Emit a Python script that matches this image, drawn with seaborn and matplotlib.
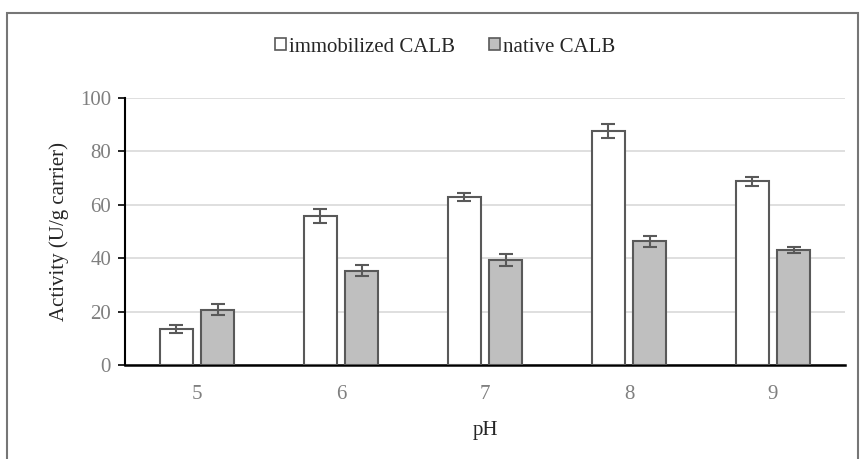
import matplotlib
matplotlib.use("Agg")
import matplotlib.pyplot as plt
import seaborn as sns
import pandas as pd
from matplotlib.patches import Rectangle, Patch

ph_levels = ["5", "6", "7", "8", "9"]
immobilized = [13.5, 55.9, 62.9, 87.8, 68.8]
immobilized_err = [1.5, 2.6, 1.6, 2.6, 1.6]
native = [20.7, 35.3, 39.3, 46.3, 43.1]
native_err = [2.1, 2.0, 2.2, 2.1, 1.2]
series_names = ["immobilized CALB", "native CALB"]
yticks = [0, 20, 40, 60, 80, 100]

sns.set_style("white")
plt.rcParams["font.family"] = ["Liberation Serif", "DejaVu Serif"]

df = pd.DataFrame({
    "pH": ph_levels * 2,
    "Activity": immobilized + native,
    "Series": [series_names[0]] * 5 + [series_names[1]] * 5,
})

FS = 15

fig = plt.figure(figsize=(8.61, 4.59), dpi=100)
ax = fig.add_axes([125 / 861, 1 - 365 / 459, 720 / 861, 267 / 459])

sns.barplot(data=df, x="pH", y="Activity", hue="Series", order=ph_levels,
            hue_order=series_names, palette=["#ffffff", "#bfbfbf"],
            width=0.57, gap=0.19, errorbar=None, edgecolor="#595959",
            linewidth=1.5, ax=ax, legend=False, zorder=3)

patches = [p for p in ax.patches if isinstance(p, Rectangle)]
errs = immobilized_err + native_err
for p, e in zip(patches, errs):
    xc = p.get_x() + p.get_width() / 2
    ax.errorbar(xc, p.get_height(), yerr=e, fmt="none", ecolor="#595959",
                elinewidth=1.5, capsize=5, capthick=1.5, zorder=4)

ax.set_xlim(-0.5, 4.5)
ax.set_ylim(0, 100)
ax.set_yticks(yticks)
ax.yaxis.grid(True, color="#d9d9d9", linewidth=1.2, zorder=0)
ax.set_axisbelow(True)
for s in ["top", "right"]:
    ax.spines[s].set_visible(False)
ax.spines["left"].set_color("black")
ax.spines["left"].set_linewidth(1.5)
ax.spines["bottom"].set_color("black")
ax.spines["bottom"].set_linewidth(1.8)
ax.tick_params(axis="y", left=True, length=5, width=1.2, color="black",
               labelsize=FS, labelcolor="#7f7f7f", pad=5)
ax.tick_params(axis="x", bottom=False, labelsize=FS, labelcolor="#7f7f7f", pad=11)
ax.set_xlabel("pH", fontsize=FS, color="#262626", labelpad=12)
ax.set_ylabel("Activity (U/g carrier)", fontsize=FS, color="#262626", labelpad=8)

handles = [Patch(facecolor="#ffffff", edgecolor="#595959", linewidth=1.2),
           Patch(facecolor="#bfbfbf", edgecolor="#595959", linewidth=1.2)]
fig.legend(handles, series_names, loc="center", bbox_to_anchor=(445 / 861, 1 - 47 / 459),
           ncol=2, frameon=False, fontsize=FS, handlelength=0.55, handleheight=0.55,
           handletextpad=0.15, columnspacing=1.6)

fig.patches.append(Rectangle((7 / 861, -0.01), 851 / 861, 1 - 13 / 459 + 0.01,
                             transform=fig.transFigure, fill=False,
                             edgecolor="#767676", linewidth=1.5))

fig.savefig("out.png", dpi=100)
